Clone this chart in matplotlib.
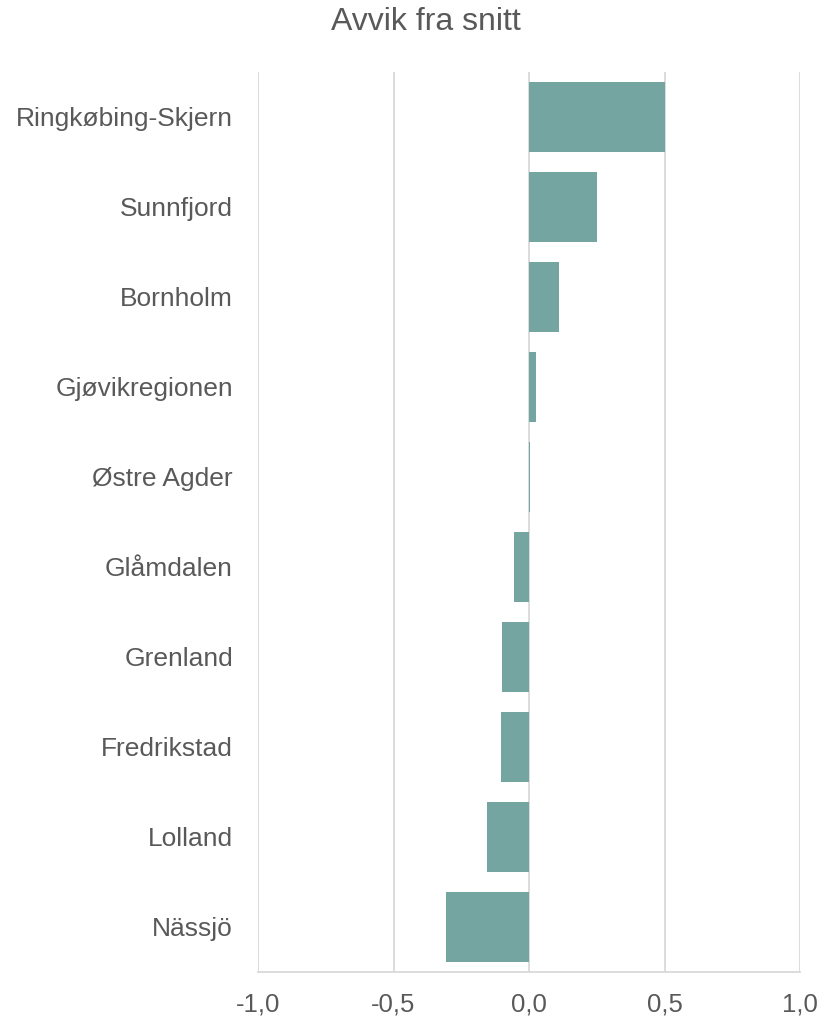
import matplotlib.pyplot as plt

plt.rcParams['font.family'] = ['Liberation Sans', 'DejaVu Sans']

regions = ["Ringkøbing-Skjern", "Sunnfjord", "Bornholm", "Gjøvikregionen", "Østre Agder",
           "Glåmdalen", "Grenland", "Fredrikstad", "Lolland", "Nässjö"]
deviation = [0.50, 0.25, 0.11, 0.026, 0.003, -0.057, -0.10, -0.104, -0.156, -0.305]
x_ticks = [-1.0, -0.5, 0.0, 0.5, 1.0]
x_labels = ["-1,0", "-0,5", "0,0", "0,5", "1,0"]

text_color = "#595959"
grid_color = "#D9D9D9"
bar_color = "#74A5A0"

fig = plt.figure(figsize=(8.36, 10.18), dpi=100)
ax = fig.add_axes([0.3086, 0.0452, 0.6484, 0.8841])

y = list(range(len(regions)))
ax.barh(y, deviation, height=0.78, color=bar_color, zorder=3)

ax.set_xlim(-1, 1)
ax.set_ylim(len(regions) - 0.5, -0.5)
ax.set_yticks(y)
ax.set_yticklabels(regions)
ax.set_xticks(x_ticks)
ax.set_xticklabels(x_labels)

ax.grid(True, axis='x', color=grid_color, linewidth=1.3, zorder=0)
for side in ['top', 'right', 'left']:
    ax.spines[side].set_visible(False)
ax.spines['bottom'].set_color(grid_color)
ax.spines['bottom'].set_linewidth(1.3)

ax.tick_params(axis='both', length=0, colors=text_color)
ax.tick_params(axis='x', pad=15, labelsize=18.5)
ax.tick_params(axis='y', pad=18, labelsize=19)

fig.text(0.509, 0.978, "Avvik fra snitt", ha='center', va='center', fontsize=23, color=text_color)

fig.savefig("out.png", dpi=100)
